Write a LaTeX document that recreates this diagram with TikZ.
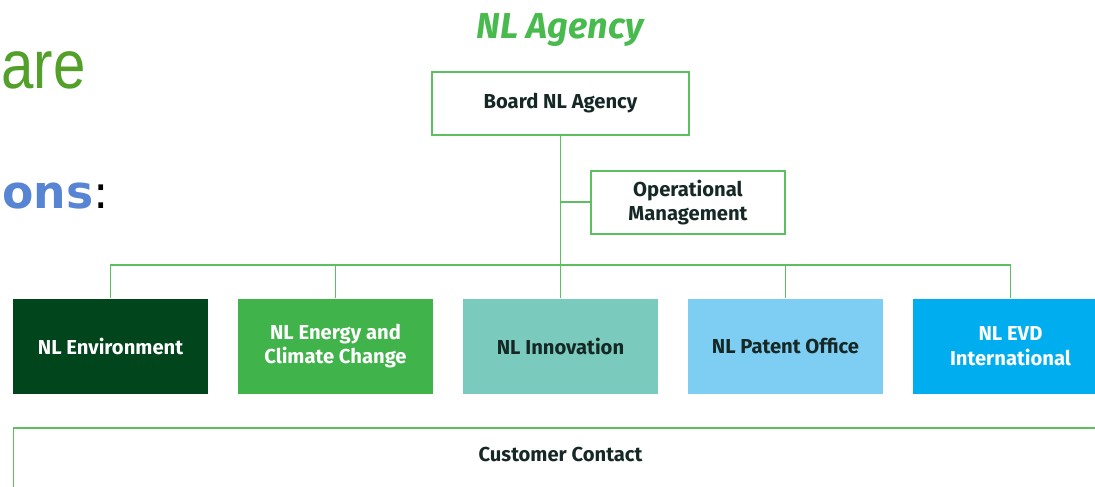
\documentclass[tikz,border=0pt]{standalone}
\usepackage{fontspec}
\setmainfont{Fira Sans}
\newfontfamily\slidefont{DejaVu Sans}
\newfontfamily\arefont{Liberation Sans}
\usetikzlibrary{matrix,positioning}
\definecolor{linegreen}{RGB}{92,192,96}
\definecolor{titlegreen}{RGB}{72,186,78}
\definecolor{aregreen}{RGB}{82,160,42}
\definecolor{onsblue}{RGB}{88,132,212}
\definecolor{boxtext}{RGB}{22,40,38}
\definecolor{envgreen}{RGB}{0,69,28}
\definecolor{energygreen}{RGB}{64,179,74}
\definecolor{innoteal}{RGB}{122,203,189}
\definecolor{patentblue}{RGB}{125,206,242}
\definecolor{evdblue}{RGB}{0,174,239}

\begin{document}
\begin{tikzpicture}[line/.style={draw=linegreen, line width=1.1pt},
	slot/.style={line, rectangle, minimum height=1.26cm, align=center, text=boxtext, font=\bfseries\fontsize{11.5}{14}\selectfont},
	unit/.style={rectangle, minimum width=3.9cm, minimum height=1.9cm, inner sep=0pt, align=center, font=\bfseries\fontsize{11.5}{13.7}\selectfont}]
			\useasboundingbox (0,0) rectangle (21.9,-9.72);
			\clip (0,0) rectangle (21.9,-9.72);
			\node[anchor=base west, inner sep=0pt, xscale=0.85, text=aregreen, font=\arefont\fontsize{39}{42}\selectfont] (are) at (0.02,-1.76) {are};
			\node[anchor=base west, inner sep=0pt, font=\slidefont\fontsize{26}{28}\selectfont] (ons) at (0.04,-4.16) {\textcolor{onsblue}{\bfseries ons}:};
			\node[text=titlegreen, font=\bfseries\itshape\fontsize{20.5}{24}\selectfont] (agency) at (11.2,-0.6) {NL Agency};
			\node[slot, minimum width=5.14cm] (board) at (11.21,-2.07) {Board NL Agency};
			\node[slot, minimum width=3.88cm, below right=0.68cm and 0.59cm of board.south] (ops) {Operational\\Management};
			\matrix[column sep=.6cm, inner sep=0pt, below=3.24cm of board](units) {
				\node[unit, fill=envgreen, text=white](env){NL Environment}; & \node[unit, fill=energygreen, text=white](energy){NL Energy and\\Climate Change}; & \node[unit, fill=innoteal, text=boxtext](inno){NL Innovation}; & \node[unit, fill=patentblue, text=boxtext](patent){NL Patent Office}; & \node[unit, fill=evdblue, text=white](evd){NL EVD\\International}; \\
			};
			\node[slot, minimum width=21.88cm, inner ysep=0.38cm, text depth=0.9cm, below=0.66cm of units](contact){Customer Contact};
			\coordinate (bus) at (11.2,-5.3);
			\draw[line] (board.south) -- (board.south |- inno.north);
			\draw[line] (board.south |- ops.west) -- (ops.west);
			\draw[line] (env.north) |- (bus) -| (evd.north);
			\draw[line] (energy.north) -- (energy.north |- bus);
			\draw[line] (patent.north) -- (patent.north |- bus);
		\end{tikzpicture}
\end{document}
